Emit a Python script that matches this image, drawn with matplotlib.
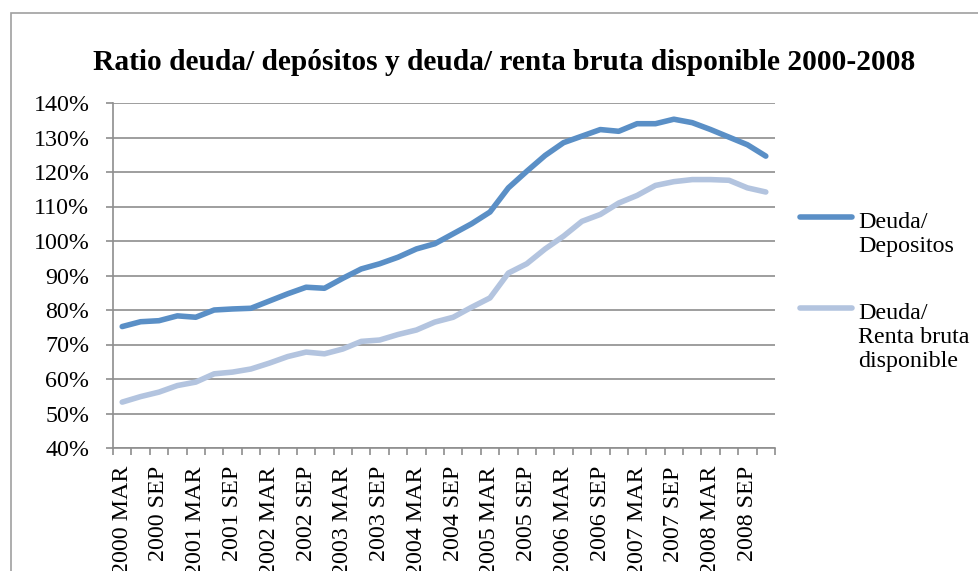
import matplotlib
import numpy as np
from matplotlib import pyplot as plt
from matplotlib.lines import Line2D
from matplotlib.patches import Rectangle
from matplotlib.ticker import FixedLocator, NullFormatter

matplotlib.use('Agg')

# quarterly data, 2000 MAR .. 2008 DEC
years = list(range(2000, 2009))
quarters = ['MAR', 'JUN', 'SEP', 'DEC']
periods = [f"{y} {q}" for y in years for q in quarters]

deuda_depositos = [75.2, 76.6, 76.9, 78.3, 77.9, 80.0, 80.3, 80.5, 82.6, 84.7,
                   86.6, 86.3, 89.2, 91.9, 93.4, 95.3, 97.7, 99.2, 102.1, 105.0,
                   108.4, 115.4, 120.2, 124.8, 128.5, 130.4, 132.3, 131.8, 134.0, 134.0,
                   135.3, 134.3, 132.3, 130.1, 127.9, 124.6]
deuda_renta = [53.3, 54.9, 56.2, 58.1, 59.1, 61.5, 62.0, 62.9, 64.6, 66.5,
               67.8, 67.3, 68.7, 70.9, 71.3, 72.9, 74.2, 76.5, 77.9, 80.8,
               83.5, 90.7, 93.4, 97.7, 101.4, 105.7, 107.7, 111.0, 113.2, 116.1,
               117.2, 117.8, 117.8, 117.6, 115.4, 114.2]

series_labels = ['Deuda/\nDepositos', 'Deuda/\nRenta bruta\ndisponible']
title = 'Ratio deuda/ depósitos y deuda/ renta bruta disponible 2000-2008'

dark_blue = '#5a8fc6'
light_blue = '#b3c4df'
grid_gray = '#8e8e8e'
fs = 17.3

plt.rcParams['font.family'] = ['Liberation Serif', 'DejaVu Serif']

fig = plt.figure(figsize=(9.79, 5.71), dpi=100)
ax = fig.add_axes([113 / 979, 1 - 448 / 571, 662 / 979, 345 / 571])

x = np.arange(len(periods))
ax.plot(x, deuda_depositos, color=dark_blue, lw=4, solid_capstyle='round', zorder=3)
ax.plot(x, deuda_renta, color=light_blue, lw=4, solid_capstyle='round', zorder=3)

ax.set_xlim(-0.5, len(periods) - 0.5)
ax.set_ylim(40, 140)
ax.set_yticks(np.arange(40, 141, 10))
ax.set_yticklabels([f"{v}%" for v in range(40, 141, 10)], fontsize=fs)

# labels every other quarter, tick marks on category boundaries
ax.set_xticks(x[::2])
ax.set_xticklabels(periods[::2], rotation=90, fontsize=fs, va='top')
ax.xaxis.set_minor_locator(FixedLocator(np.arange(-0.5, len(periods), 1)))
ax.xaxis.set_minor_formatter(NullFormatter())
ax.tick_params(axis='x', which='major', length=0, pad=13)
ax.tick_params(axis='x', which='minor', length=5, color=grid_gray, width=1.2)
ax.tick_params(axis='y', length=5, color=grid_gray, width=1.2, pad=12)

ax.grid(axis='y', color=grid_gray, lw=1.2)
ax.set_axisbelow(True)
for side in ['top', 'right']:
    ax.spines[side].set_visible(False)
for side in ['left', 'bottom']:
    ax.spines[side].set_color(grid_gray)
    ax.spines[side].set_linewidth(1.2)

fig.text(504 / 979, 1 - 63 / 571, title, ha='center', va='center',
         fontsize=21.2, fontweight='bold')

# legend drawn by hand so the swatch sits on the first line of each label
for i, (lab, col) in enumerate(zip(series_labels, [dark_blue, light_blue])):
    y = 1 - (217 + 91 * i) / 571
    fig.add_artist(Line2D([800 / 979, 852 / 979], [y, y], color=col, lw=4,
                          solid_capstyle='round', transform=fig.transFigure))
    fig.text(858 / 979, y + 5 / 571, lab, ha='left', va='top',
             fontsize=fs, linespacing=1.2)

# chart-area border (only left and top edges visible in the crop)
fig.add_artist(Rectangle((11 / 979, -0.1), 1.2, 1 - 13 / 571 + 0.1,
                         transform=fig.transFigure, fill=False,
                         edgecolor='#a0a0a0', lw=1.2))

fig.savefig('out.png', dpi=100)
